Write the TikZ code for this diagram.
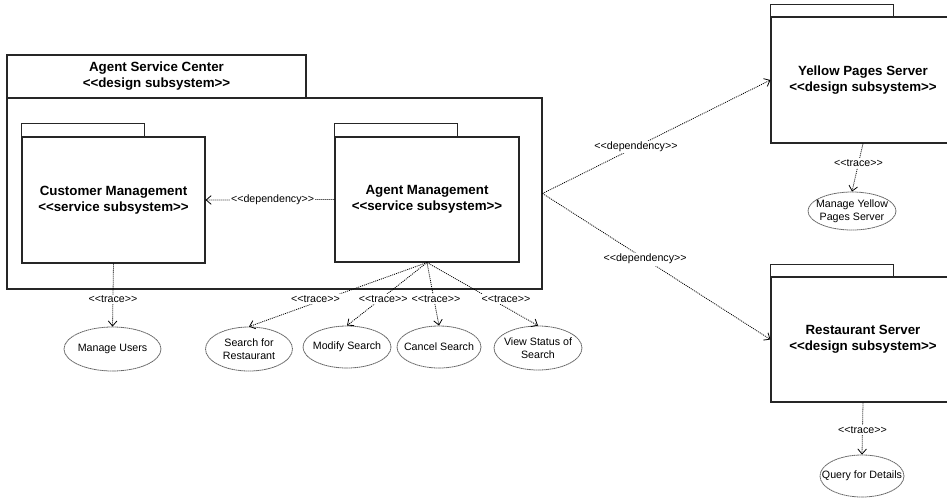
\documentclass[tikz,border=0pt]{standalone}
\usepackage{fontspec}
\setmainfont{Liberation Sans}
\usetikzlibrary{shapes.geometric,arrows.meta}
\newcommand\pxu{0.75pt}
\definecolor{boxline}{gray}{0.15}
\definecolor{caseline}{gray}{0.4}
\tikzset{
  pkgbody/.style={draw=boxline, line width=0.8pt, rectangle, inner sep=0pt,
    align=center, font=\bfseries\fontsize{10}{12}\selectfont},
  pkgtab/.style={draw=boxline, line width=0.8pt},
  usecase/.style={draw=caseline, line width=0.6pt, dash pattern=on 1.2pt off 0.35pt,
    ellipse, inner sep=0pt},
  casetext/.style={align=center, font=\fontsize{8}{9.5}\selectfont},
  link/.style={line width=0.6pt, dash pattern=on 0.75pt off 0.75pt,
    -{Straight Barb[length=3.8pt,width=6.5pt,line width=0.6pt]}},
  linklabel/.style={fill=white, inner sep=1pt, font=\fontsize{8}{9.5}\selectfont}
}
\begin{document}
\begin{tikzpicture}[x=\pxu, y=-\pxu]
\useasboundingbox (0,0) rectangle (947,497);
\clip (0,0) rectangle (947,497);
\fill[white] (0,0) rectangle (947,497);

% Agent Service Center package
\node[pkgbody, minimum width=535*\pxu, minimum height=191*\pxu] (asc) at (274.5,193.5) {};
\draw[pkgtab] (7,55) rectangle (306,98);
\node[align=center, font=\bfseries\fontsize{10}{12}\selectfont] (asctitle) at (156.5,76.5)
  {Agent Service Center\\<{}<design subsystem>{}>};

% Inner service subsystems
\node[pkgbody, minimum width=183*\pxu, minimum height=126*\pxu] (cm) at (113.5,200)
  {Customer Management\\<{}<service subsystem>{}>};
\draw[pkgtab] (cm.north west) rectangle ++(123,-13);
\node[pkgbody, minimum width=184*\pxu, minimum height=125*\pxu] (am) at (427,199.5)
  {Agent Management\\<{}<service subsystem>{}>};
\draw[pkgtab] (am.north west) rectangle ++(123,-13);

% Server subsystems
\node[pkgbody, minimum width=184*\pxu, minimum height=126*\pxu] (yp) at (863,80)
  {Yellow Pages Server\\<{}<design subsystem>{}>};
\draw[pkgtab] (yp.north west) rectangle ++(123,-12);
\node[pkgbody, minimum width=184*\pxu, minimum height=125*\pxu] (rs) at (863,339.5)
  {Restaurant Server\\<{}<design subsystem>{}>};
\draw[pkgtab] (rs.north west) rectangle ++(123,-12);

% Use cases
\node[usecase, minimum width=97*\pxu, minimum height=44*\pxu] (mu) at (112.5,349)
  {}; \node[casetext] (mut) at (mu) {Manage Users};
\node[usecase, minimum width=87*\pxu, minimum height=44*\pxu] (sr) at (249,349)
  {}; \node[casetext] (srt) at (sr) {Search for\\Restaurant};
\node[usecase, minimum width=88*\pxu, minimum height=42*\pxu] (ms) at (347,347)
  {}; \node[casetext] (mst) at (ms) {Modify Search};
\node[usecase, minimum width=84*\pxu, minimum height=42*\pxu] (cs) at (439,347)
  {}; \node[casetext] (cst) at (cs) {Cancel Search};
\node[usecase, minimum width=88*\pxu, minimum height=44*\pxu] (vs) at (538,348)
  {}; \node[casetext] (vst) at (vs) {View Status of\\Search};
\node[usecase, minimum width=88*\pxu, minimum height=38*\pxu] (myp) at (852,211)
  {}; \node[casetext] (mypt) at (myp) {Manage Yellow\\Pages Server};
\node[usecase, minimum width=84*\pxu, minimum height=42*\pxu] (qd) at (862,476)
  {}; \node[casetext] (qdt) at (qd) {Query for Details};

% Dependencies
\draw[link] (am.west) -- node[linklabel, pos=0.48] {<{}<dependency>{}>} (cm.east);
\draw[link] (asc.east) -- node[linklabel, pos=0.41] {<{}<dependency>{}>} (yp.west);
\draw[link] (asc.east) -- node[linklabel, pos=0.45] {<{}<dependency>{}>} (rs.west);

% Traces
\draw[link] (cm.south) -- node[linklabel, pos=0.57] {<{}<trace>{}>} (mu.north);
\draw[link] (am.south) -- node[linklabel, pos=0.57, xshift=-7.5pt] {<{}<trace>{}>} (sr.north);
\draw[link] (am.south) -- node[linklabel, pos=0.58, xshift=2pt] {<{}<trace>{}>} (ms.north);
\draw[link] (am.south) -- node[linklabel, pos=0.58, xshift=1.5pt] {<{}<trace>{}>} (cs.north);
\draw[link] (am.south) -- node[linklabel, pos=0.58, xshift=11pt] {<{}<trace>{}>} (vs.north);
\draw[link] (yp.south) -- node[linklabel, pos=0.41] {<{}<trace>{}>} (myp.north);
\draw[link] (rs.south) -- node[linklabel, pos=0.53] {<{}<trace>{}>} (qd.north);
\end{tikzpicture}
\end{document}
